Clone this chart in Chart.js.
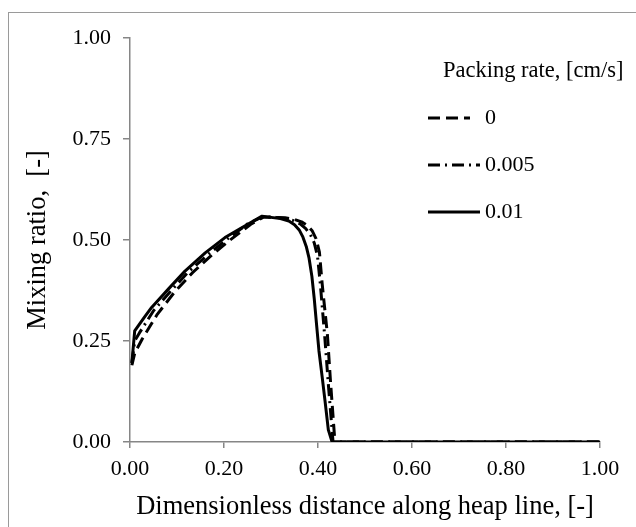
<!DOCTYPE html>
<html>
<head>
<meta charset="utf-8">
<script src="https://cdn.jsdelivr.net/npm/chart.js@4.4.1/dist/chart.umd.min.js"></script>
<style>
  html, body { margin: 0; padding: 0; background: #fff; }
  #wrap { width: 636px; height: 527px; position: relative; }
</style>
</head>
<body>
<div id="wrap"><canvas id="myChart" width="636" height="527"></canvas></div>
<script>
// Packing rate series (x = dimensionless distance, y = mixing ratio)
const seriesLabels = ['0', '0.005', '0.01'];

const x0 = [0.004, 0.010, 0.026, 0.058, 0.094, 0.133, 0.175, 0.214, 0.257, 0.285, 0.310, 0.330, 0.350, 0.365, 0.378, 0.388, 0.396, 0.403, 0.409, 0.420, 0.427, 0.436, 1.0];
const y0 = [0.190, 0.220, 0.255, 0.316, 0.370, 0.419, 0.464, 0.501, 0.539, 0.557, 0.556, 0.555, 0.551, 0.545, 0.535, 0.522, 0.503, 0.470, 0.390, 0.266, 0.143, 0.000, 0.0];

const x005 = [0.004, 0.010, 0.020, 0.050, 0.090, 0.125, 0.170, 0.210, 0.250, 0.283, 0.310, 0.330, 0.348, 0.362, 0.374, 0.384, 0.392, 0.399, 0.405, 0.414, 0.422, 0.432, 1.0];
const y005 = [0.195, 0.250, 0.270, 0.325, 0.378, 0.422, 0.468, 0.505, 0.540, 0.558, 0.556, 0.553, 0.548, 0.540, 0.528, 0.513, 0.493, 0.460, 0.390, 0.266, 0.143, 0.000, 0.0];

const x01 = [0.004, 0.010, 0.030, 0.046, 0.082, 0.117, 0.160, 0.202, 0.245, 0.281, 0.300, 0.320, 0.338, 0.350, 0.360, 0.368, 0.375, 0.381, 0.387, 0.392, 0.397, 0.402, 0.409, 0.415, 0.422, 0.430, 1.0];
const y01 = [0.196, 0.275, 0.308, 0.333, 0.379, 0.423, 0.468, 0.506, 0.535, 0.559, 0.556, 0.553, 0.547, 0.538, 0.525, 0.507, 0.484, 0.455, 0.410, 0.355, 0.290, 0.226, 0.160, 0.101, 0.030, 0.000, 0.0];

const xTicks = [0, 0.2, 0.4, 0.6, 0.8, 1.0];
const yTicks = [0, 0.25, 0.5, 0.75, 1.0];

const dashStyles = [[12, 6], [12, 5, 2, 5], []];
const axisGray = '#868686';
const serif = "'Liberation Serif', 'Times New Roman', serif";

function toPoints(xs, ys) {
    return xs.map((x, i) => ({ x: x, y: ys[i] }));
}

// frame + in-plot legend, drawn by hand like the Excel original
const decorPlugin = {
    id: 'decor',
    afterDraw(chart) {
        const ctx = chart.ctx;
        ctx.save();
        ctx.strokeStyle = '#9a9a9a';
        ctx.lineWidth = 1;
        ctx.strokeRect(8.5, 12.5, 700, 700);

        ctx.fillStyle = '#000';
        ctx.font = '22.5px ' + serif;
        ctx.textBaseline = 'middle';
        ctx.textAlign = 'left';
        ctx.fillText('Packing rate, [cm/s]', 443, 71);

        const rows = [118, 165, 212];
        const ends = [470, 480, 480];
        ctx.font = '22px ' + serif;
        chart.data.datasets.forEach((ds, i) => {
            ctx.beginPath();
            ctx.setLineDash(ds.borderDash || []);
            ctx.lineWidth = 3;
            ctx.strokeStyle = '#000';
            ctx.moveTo(428, rows[i]);
            ctx.lineTo(ends[i], rows[i]);
            ctx.stroke();
            ctx.setLineDash([]);
            ctx.fillText(ds.label, 485, rows[i]);
        });
        ctx.restore();
    }
};

const ctx = document.getElementById('myChart').getContext('2d');
const myChart = new Chart(ctx, {
    type: 'scatter',
    data: {
        datasets: [
            { label: seriesLabels[0], data: toPoints(x0, y0), borderDash: dashStyles[0], order: 3 },
            { label: seriesLabels[1], data: toPoints(x005, y005), borderDash: dashStyles[1], order: 2 },
            { label: seriesLabels[2], data: toPoints(x01, y01), borderDash: dashStyles[2], order: 1 }
        ].map(ds => Object.assign(ds, {
            showLine: true,
            borderColor: '#000',
            borderWidth: 3,
            borderJoinStyle: 'round',
            pointRadius: 0,
            tension: 0
        }))
    },
    options: {
        responsive: false,
        animation: false,
        layout: { padding: { top: 38, right: 36, bottom: 0, left: 0 } },
        plugins: {
            legend: { display: false },
            tooltip: { enabled: false }
        },
        scales: {
            x: {
                type: 'linear',
                min: 0,
                max: 1,
                afterBuildTicks: s => { s.ticks = xTicks.map(v => ({ value: v })); },
                afterFit: s => { s.height = 85; },
                ticks: {
                    color: '#000',
                    font: { family: serif, size: 22 },
                    padding: 8,
                    maxRotation: 0,
                    callback: v => v.toFixed(2)
                },
                grid: { drawOnChartArea: false, drawTicks: true, tickLength: 6, color: axisGray, lineWidth: 1.5 },
                border: { display: true, color: axisGray, width: 1.5 },
                title: {
                    display: true,
                    text: 'Dimensionless distance along heap line, [-]',
                    color: '#000',
                    font: { family: serif, size: 26.5 },
                    padding: { top: 0, bottom: 4 }
                }
            },
            y: {
                type: 'linear',
                min: 0,
                max: 1,
                afterBuildTicks: s => { s.ticks = yTicks.map(v => ({ value: v })); },
                afterFit: s => { s.width = 130; },
                ticks: {
                    color: '#000',
                    font: { family: serif, size: 22 },
                    padding: 12,
                    callback: v => v.toFixed(2)
                },
                grid: { drawOnChartArea: false, drawTicks: true, tickLength: 7, color: axisGray, lineWidth: 1.5 },
                border: { display: true, color: axisGray, width: 1.5 },
                title: {
                    display: true,
                    text: 'Mixing ratio,  [-]',
                    color: '#000',
                    font: { family: serif, size: 26.5 },
                    padding: { top: 22, bottom: 0 }
                }
            }
        }
    },
    plugins: [decorPlugin]
});
</script>
</body>
</html>
